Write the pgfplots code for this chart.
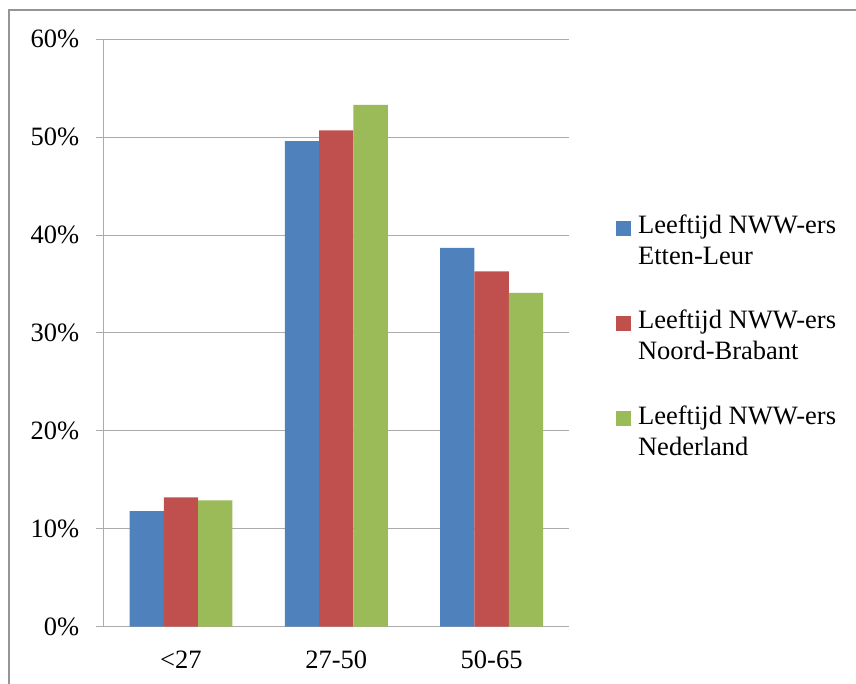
\documentclass[border=0pt]{standalone}
\usepackage{pgfplots}
\pgfplotsset{compat=1.18}
\usepackage{fontspec}
\setmainfont{Liberation Serif}
\definecolor{cblue}{HTML}{4F81BD}
\definecolor{cred}{HTML}{C0504D}
\definecolor{cgreen}{HTML}{9BBB59}
\definecolor{cgrid}{HTML}{ABABAB}
\definecolor{cframe}{HTML}{959595}
\begin{document}
\begin{tikzpicture}[x=1bp,y=1bp]
\useasboundingbox (-103.3,-57.3) rectangle (752.7,626.7);
\draw[cframe,line width=1.5bp] (-94.3,-120) -- (-94.3,616.7) -- (900,616.7);
\begin{axis}[
  at={(0,0)}, anchor=south west,
  scale only axis, width=466bp, height=587.4bp,
  ybar, bar width=34.3bp,
  xmin=-0.5, xmax=2.5, ymin=0, ymax=60,
  font=\fontsize{26.5bp}{31bp}\selectfont,
  axis x line=bottom, axis y line=left,
  x axis line style={-}, y axis line style={-},
  axis line style={cgrid, line width=1bp},
  xtick={0,1,2}, xticklabels={{<27},{27-50},{50-65}},
  major x tick style={draw=none},
  extra x ticks={-0.5,0.5,1.5,2.5}, extra x tick labels={},
  extra x tick style={major tick length=8bp, tick style={cgrid,line width=1bp}},
  ytick={0,10,20,30,40,50,60},
  yticklabel={\pgfmathprintnumber{\tick}\%},
  /pgf/number format/assume math mode=true,
  tick align=outside, major tick length=7bp,
  tick style={cgrid, line width=1bp},
  ymajorgrids, major grid style={cgrid, line width=1bp},
  xticklabel style={inner sep=0pt, yshift=-17bp},
  yticklabel style={inner sep=0pt, xshift=-17bp},
  legend image code/.code={\fill[#1] (0bp,5bp) rectangle (15bp,20bp);},
  legend style={draw=none, fill=none, at={(1.100,0.7044)}, anchor=north west,
    inner sep=0pt, row sep=40bp, column sep=5bp,
    nodes={align=left, inner sep=2bp, font=\fontsize{26.5bp}{31bp}\selectfont}},
  legend cell align=left,
]
\addplot[fill=cblue, draw=none, bar shift=-34.3bp] coordinates {(0,11.8) (1,49.6) (2,38.7)};
\addplot[fill=cred, draw=none, bar shift=0bp] coordinates {(0,13.2) (1,50.7) (2,36.3)};
\addplot[fill=cgreen, draw=none, bar shift=34.3bp] coordinates {(0,12.9) (1,53.3) (2,34.1)};
\legend{{Leeftijd NWW-ers\\Etten-Leur},{Leeftijd NWW-ers\\Noord-Brabant},{Leeftijd NWW-ers\\Nederland}}
\end{axis}
\end{tikzpicture}
\end{document}
